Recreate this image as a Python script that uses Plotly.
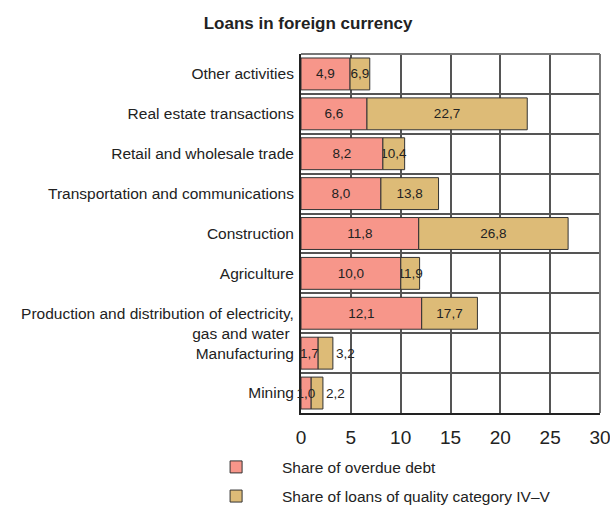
import plotly.graph_objects as go

categories = [
    "Other activities",
    "Real estate transactions",
    "Retail and wholesale trade",
    "Transportation and communications",
    "Construction",
    "Agriculture",
    "\u00a0<br>Production and distribution of electricity,<br>gas and water ",
    "Manufacturing",
    "Mining",
]
overdue = [4.9, 6.6, 8.2, 8.0, 11.8, 10.0, 12.1, 1.7, 1.0]
quality = [6.9, 22.7, 10.4, 13.8, 26.8, 11.9, 17.7, 3.2, 2.2]
x_ticks = [0, 5, 10, 15, 20, 25, 30]

FONT = "Liberation Sans, Arial, sans-serif"
PINK = "#F7968A"
TAN = "#DDBB77"
EDGE = "#333333"

def fmt(v):
    return f"{v:.1f}".replace(".", ",")

tan_pos = ["outside" if q - o < 1.8 else "inside" for o, q in zip(overdue, quality)]

fig = go.Figure()
fig.add_trace(go.Bar(
    y=categories, x=[q - o for o, q in zip(overdue, quality)], base=overdue,
    orientation="h", name="\u00a0" * 6 + "Share of loans of quality category IV\u2013V",
    marker=dict(color=TAN, line=dict(color=EDGE, width=1)),
    text=[fmt(v) for v in quality], textposition=tan_pos, insidetextanchor="middle",
    textangle=0, constraintext="none", cliponaxis=False,
    textfont=dict(family=FONT, size=13.5, color="#222"),
    width=0.8, legendgroup="b", legendrank=2,
))
fig.add_trace(go.Bar(
    y=categories, x=overdue, orientation="h", name="\u00a0" * 6 + "Share of overdue debt",
    marker=dict(color=PINK, line=dict(color=EDGE, width=1)),
    text=[fmt(v) for v in overdue], textposition="inside", insidetextanchor="middle",
    textangle=0, constraintext="none", cliponaxis=False,
    textfont=dict(family=FONT, size=13.5, color="#222"),
    width=0.8, legendgroup="a", legendrank=1,
))

fig.update_layout(
    width=610, height=508,
    margin=dict(l=301, r=10, t=54, b=95, autoexpand=False),
    barmode="overlay",
    paper_bgcolor="white", plot_bgcolor="white",
    font=dict(family=FONT, size=15.5, color="#222"),
    title=dict(text="<b>Loans in foreign currency</b>", x=0.505, xref="container",
               xanchor="center", y=0.955, yref="container", yanchor="middle",
               font=dict(family=FONT, size=17, color="#222")),
    xaxis=dict(range=[0, 30], tickvals=x_ticks, ticktext=[str(t) for t in x_ticks],
               showgrid=True, gridcolor="#555", gridwidth=1.5,
               showline=True, linecolor="#222", linewidth=2, mirror=False,
               ticks="", zeroline=False, tickfont=dict(size=19), automargin=False,
               ticklabelstandoff=6, ticklabeloverflow="allow"),
    yaxis=dict(autorange="reversed", tickson="boundaries", showgrid=True,
               gridcolor="#555", gridwidth=1.5, showline=True, linecolor="#222",
               linewidth=2, ticks="", ticklen=0, automargin=False,
               ticklabelstandoff=2),
    legend=dict(x=-0.284, xanchor="left", y=-0.104, yanchor="top",
                traceorder="grouped", tracegroupgap=6,
                font=dict(family=FONT, size=15.5), bgcolor="rgba(0,0,0,0)"),
    shapes=[
        dict(type="line", xref="paper", yref="paper", x0=0, x1=1, y0=1, y1=1,
             line=dict(color="#777", width=2)),
        dict(type="line", xref="paper", yref="paper", x0=1, x1=1, y0=0, y1=1,
             line=dict(color="#777", width=2)),
    ],
)

fig.write_html("out.html", config={"displayModeBar": False},
               post_script="document.body.style.margin='0';document.body.style.overflow='hidden';")
